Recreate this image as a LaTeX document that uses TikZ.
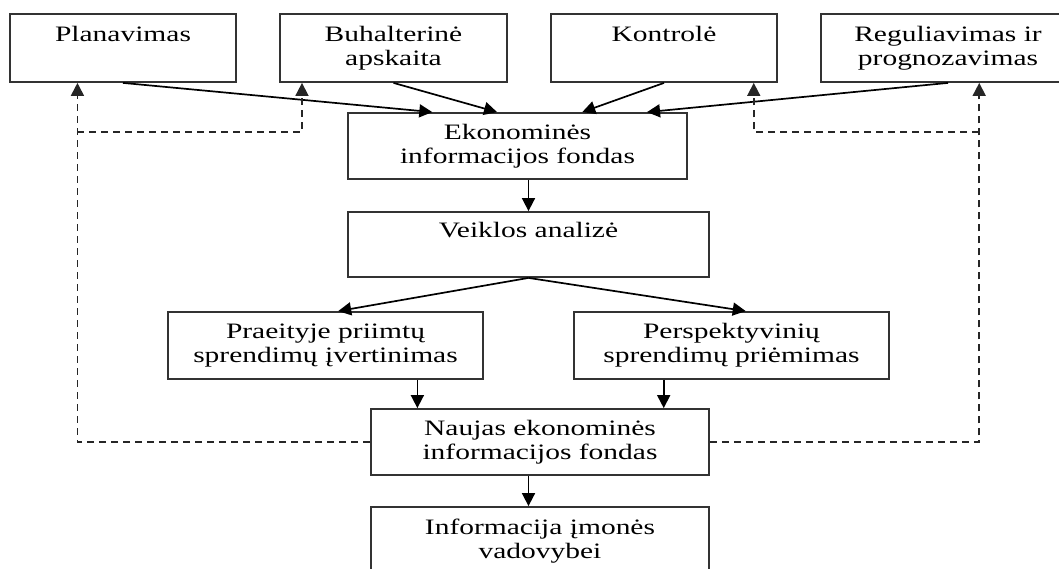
\documentclass[tikz,border=0pt]{standalone}
\usepackage{fontspec}
\setmainfont{Liberation Serif}[FakeStretch=1.34]
\usetikzlibrary{arrows.meta,calc}
\newcommand{\virs}{\rule{0pt}{21pt}}
\newcommand{\apac}{\rule[-4.5pt]{0pt}{4.5pt}}

\begin{document}
\begin{tikzpicture}[x=1pt, y=-1pt,
  every node/.style={font=\fontsize{22}{24}\selectfont},
  blok/.style={draw=black!80, line width=1.8pt, inner sep=0pt, align=center,
    execute at begin node=\virs, execute at end node=\apac},
  rod/.style={-{Triangle[length=13pt,width=13pt]}, line width=1.7pt},
  grizt/.style={rod, draw=black!85, dash pattern=on 7pt off 5pt}]
  \useasboundingbox (0,0) rectangle (1059,568);
  % virsutine eile
  \node[blok, minimum width=226pt, minimum height=68pt] (plan) at (123,48) {Planavimas\\};
  \node[blok, minimum width=227pt, minimum height=68pt] (buh) at (393.5,48) {Buhalterinė\\apskaita};
  \node[blok, minimum width=226pt, minimum height=68pt] (kont) at (664,48) {Kontrolė\\};
  \node[blok, minimum width=254pt, minimum height=68pt] (reg) at (948,48) {Reguliavimas ir\\prognozavimas};
  % vidurys
  \node[blok, minimum width=339pt, minimum height=66pt] (ekon) at (517.5,146) {Ekonominės\\informacijos fondas};
  \node[blok, minimum width=361pt, minimum height=65pt] (veik) at (528.5,244.5) {Veiklos analizė\\};
  \node[blok, minimum width=315pt, minimum height=67pt] (praeit) at (325.5,345.5) {Praeityje priimtų\\sprendimų įvertinimas};
  \node[blok, minimum width=315pt, minimum height=67pt] (persp) at (731.5,345.5) {Perspektyvinių\\sprendimų priėmimas};
  \node[blok, minimum width=338pt, minimum height=66pt] (naujas) at (540,442) {Naujas ekonominės\\informacijos fondas};
  \node[blok, minimum width=338pt, minimum height=68pt] (info) at (540,541) {Informacija įmonės\\vadovybei};

  % rodykles
  \foreach \n/\t in {plan/0.25, buh/0.44, kont/0.69, reg/0.88}
    \draw[rod] (\n.south) -- ($(ekon.north west)!\t!(ekon.north east)$);
  \draw[rod] (ekon.south -| veik.north) -- (veik.north);
  \draw[rod] (veik.south) -- ($(praeit.north west)!0.54!(praeit.north east)$);
  \draw[rod] (veik.south) -- ($(persp.north west)!0.545!(persp.north east)$);
  \draw[rod] ($(praeit.south west)!0.79!(praeit.south east)$) coordinate (p1) -- (p1 |- naujas.north);
  \draw[rod] ($(persp.south west)!0.286!(persp.south east)$) coordinate (p2) -- (p2 |- naujas.north);
  \draw[rod] (naujas.south -| veik.south) -- (info.north -| veik.south);

  % grizimo rysiai
  \coordinate (pl) at ($(plan.south west)!0.3!(plan.south east)$);
  \coordinate (rg) at ($(reg.south west)!0.622!(reg.south east)$);
  \coordinate (kj) at (pl |- 0,132);
  \coordinate (dj) at (rg |- 0,132);
  \draw[grizt] (naujas.west) -| (pl);
  \draw[grizt] (naujas.east) -| (rg);
  \draw[grizt] (kj) -| ($(buh.south west)!0.1!(buh.south east)$);
  \draw[grizt] (dj) -| ($(kont.south west)!0.894!(kont.south east)$);
\end{tikzpicture}
\end{document}
